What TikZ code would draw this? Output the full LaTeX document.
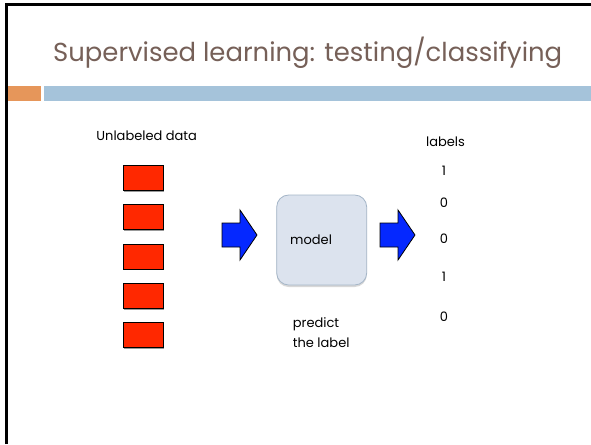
\documentclass[tikz,border=0pt]{standalone}
\usepackage{fontspec}
\setmainfont{Poppins}
\usetikzlibrary{shadows}
\definecolor{titlec}{RGB}{118,96,88}
\definecolor{barorange}{RGB}{230,150,90}
\definecolor{barblue}{RGB}{165,195,218}
\definecolor{boxred}{RGB}{255,40,0}
\definecolor{arrowblue}{RGB}{5,40,255}
\definecolor{modelfill}{RGB}{220,227,238}
\definecolor{modeldraw}{RGB}{165,182,200}
\tikzset{
  titletext/.style={inner sep=0pt, text=titlec, font=\fontsize{26}{30}\selectfont},
  smalltext/.style={inner sep=0pt, text=black, font=\fontsize{13}{15}\selectfont},
  databox/.style={draw=black, line width=0.8pt, fill=boxred, minimum width=40pt, minimum height=25pt, inner sep=0pt,
    drop shadow={shadow xshift=1.2pt, shadow yshift=-1.2pt, fill=gray!80, opacity=1}},
  modelbox/.style={draw=modeldraw, line width=0.8pt, fill=modelfill, rounded corners=12pt, minimum width=90pt, minimum height=90pt, inner sep=0pt,
    drop shadow={shadow xshift=0pt, shadow yshift=-2pt, fill=gray!60, opacity=0.5}},
  blockarrow/.style={draw=black, line width=0.8pt, fill=arrowblue, line join=miter}
}
\begin{document}
\begin{tikzpicture}[x=1pt,y=-1pt]
\useasboundingbox (0,0) rectangle (591,444);
\fill[white] (0,0) rectangle (591,444);
\draw[line width=2.2pt] (6.5,444) -- (6.5,4.5) -- (591,4.5);
\fill[barorange] (7.5,86) rectangle (41,101);
\fill[barblue] (44,86) rectangle (591,101);
\node[titletext, anchor=base west] (title) at (53,61.7) {\resizebox{509pt}{\height}{Supervised learning: testing/classifying}};

\node[smalltext] (unl) at (146.7,136) {Unlabeled data};
\node[databox] (d1) at (143,178) {};
\node[databox] (d2) at (143,217.3) {};
\node[databox] (d3) at (143,256.7) {};
\node[databox] (d4) at (143,296) {};
\node[databox] (d5) at (143,335.3) {};

\draw[blockarrow] (222,223) -- (240,223) -- (240,210) -- (257,235) -- (240,260) -- (240,247) -- (222,247) -- cycle;
\node[modelbox] (model) at (321.7,240) {};
\node[smalltext, anchor=west] (modeltext) at (290,239.3) {model};
\draw[blockarrow] (380,223) -- (398,223) -- (398,210) -- (415,235) -- (398,260) -- (398,247) -- (380,247) -- cycle;

\node[smalltext, anchor=west] (pred1) at (292.7,324) {predict};
\node[smalltext, anchor=west] (pred2) at (292.7,343) {the label};

\node[smalltext] (labels) at (445.5,141.7) {labels};
\node[smalltext] (l1) at (444,170.7) {1};
\node[smalltext] (l2) at (444,203) {0};
\node[smalltext] (l3) at (444,239) {0};
\node[smalltext] (l4) at (444,276.7) {1};
\node[smalltext] (l5) at (444,317) {0};
\end{tikzpicture}
\end{document}
